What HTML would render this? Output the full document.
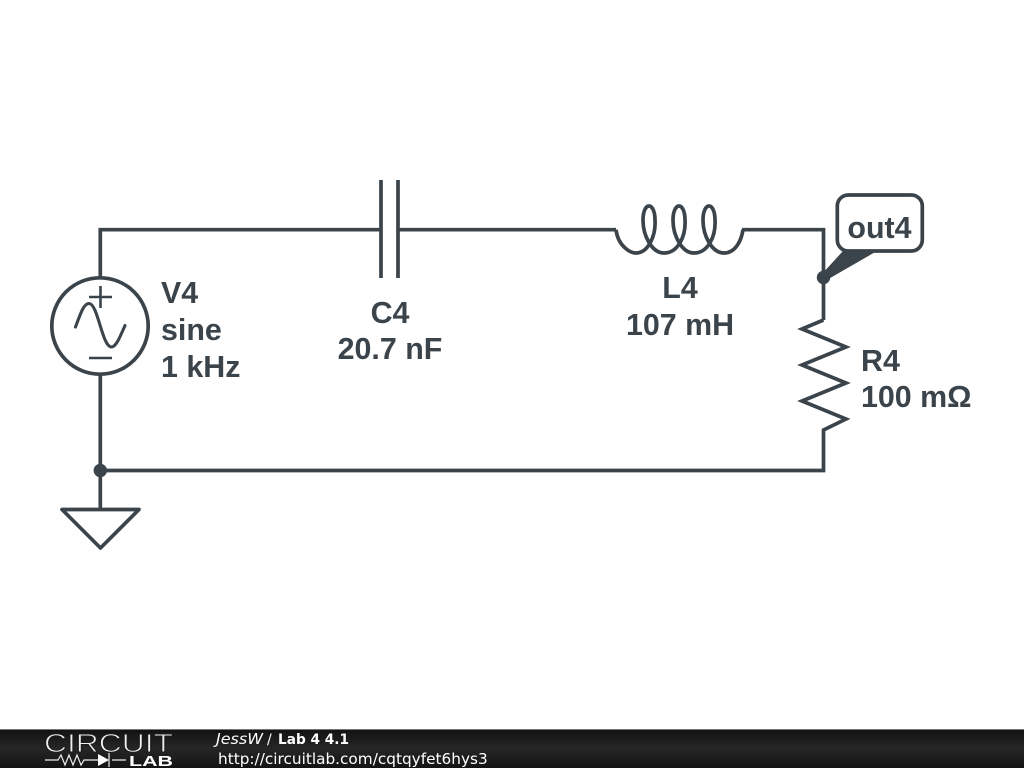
<!DOCTYPE html>
<html>
<head>
<meta charset="utf-8">
<style>
html,body{margin:0;padding:0;background:#fff;width:1024px;height:768px;overflow:hidden}
svg{display:block;filter:blur(0.35px)}
.l{font-family:"Liberation Sans",sans-serif;font-weight:bold;font-size:30.4px;fill:#3b444b}
.f{font-family:"DejaVu Sans",sans-serif;fill:#fff}
</style>
</head>
<body>
<svg width="1024" height="768" viewBox="0 0 1024 768" xmlns="http://www.w3.org/2000/svg">
<defs>
<linearGradient id="g" x1="0" y1="0" x2="0" y2="1">
<stop offset="0" stop-color="#111"/>
<stop offset="0.5" stop-color="#262626"/>
<stop offset="1" stop-color="#141414"/>
</linearGradient>
</defs>
<rect width="1024" height="768" fill="#fff"/>
<g fill="none" stroke="#3b444b" stroke-width="3.7" stroke-linejoin="miter">
<path d="M100.3 278V229.7H381"/>
<path d="M398 229.7H616"/>
<path d="M742 229.7H823.5V320"/>
<path d="M381 180V278M398 180V278"/>
<path d="M616 229.7C618 246 630 253 636 253C648 253 656 236 655 220C655 211 652 206 649 206C646 206 643 211 643 220C643 236 652 253 664 253C678 253 686 236 685 220C685 211 682 206 679 206C676 206 673 211 673 220C673 236 682 253 694 253C708 253 716 236 715 220C715 211 712 206 709 206C706 206 703 211 703 220C703 236 712 253 724 253C734 253 741 243 743 229.7"/>
<polyline points="823.5,320 802,329 846,347 802,365 846,383 802,401 846,419 823.5,430 823.5,470.5 100.3,470.5"/>
<circle cx="100" cy="326" r="48.2"/>
<path d="M100.3 374V509"/>
<path d="M62 509.5H139L100.5 548Z" stroke-linejoin="round"/>
<path d="M89 297H112M100.5 286V308M89 358H112" stroke-width="2.6"/>
<path d="M75.5 327C81 312 84 303.5 89 303.5C98 303.5 102 347 111.5 347C116 347 120 337 125 325.5" stroke-width="3.1" stroke-linecap="round"/>
<rect x="837.3" y="195" width="85" height="56" rx="11" ry="11"/>
</g>
<path d="M821 275L843 251H877L825 281Z" fill="#3b444b"/>
<circle cx="823.5" cy="277.5" r="6.7" fill="#3b444b"/>
<circle cx="100.3" cy="470.5" r="6.7" fill="#3b444b"/>

<text class="l" x="161" y="303">V4</text>
<text class="l" x="161" y="340">sine</text>
<text class="l" x="161" y="377">1 kHz</text>
<text class="l" x="390" y="323" text-anchor="middle">C4</text>
<text class="l" x="390" y="359" text-anchor="middle">20.7 nF</text>
<text class="l" x="680" y="298" text-anchor="middle">L4</text>
<text class="l" x="680" y="335" text-anchor="middle">107 mH</text>
<text class="l" x="861" y="371">R4</text>
<text class="l" x="861" y="407">100 mΩ</text>
<text class="l" x="879.5" y="238" text-anchor="middle">out4</text>

<rect x="0" y="729" width="1024" height="39" fill="url(#g)"/>
<rect x="0" y="729" width="1024" height="1" fill="#777"/>
<text x="44" y="752" font-family="Liberation Sans,sans-serif" font-size="26" fill="#f0f0f0" stroke="#1c1c1c" stroke-width="0.9" paint-order="fill stroke" textLength="129" lengthAdjust="spacingAndGlyphs">CIRCUIT</text>
<text x="129" y="766" font-family="Liberation Sans,sans-serif" font-weight="bold" font-size="15" fill="#fff" textLength="44" lengthAdjust="spacingAndGlyphs">LAB</text>
<path d="M45 760H58L61 755L65 765L69 755L73 765L77 755L81 765L84 760H98M126 760H112M109 753V767" fill="none" stroke="#eee" stroke-width="1.2"/>
<path d="M98 754L109 760L98 766Z" fill="#fff"/>
<text class="f" x="216" y="744" font-size="15" font-style="italic" textLength="47" lengthAdjust="spacingAndGlyphs">JessW</text>
<text class="f" x="267" y="744" font-size="14">/</text>
<text class="f" x="278" y="744" font-size="14" font-weight="bold" textLength="71" lengthAdjust="spacingAndGlyphs">Lab 4 4.1</text>
<text class="f" x="218" y="764" font-size="15.3">http://circuitlab.com/cqtqyfet6hys3</text>
</svg>
</body>
</html>
